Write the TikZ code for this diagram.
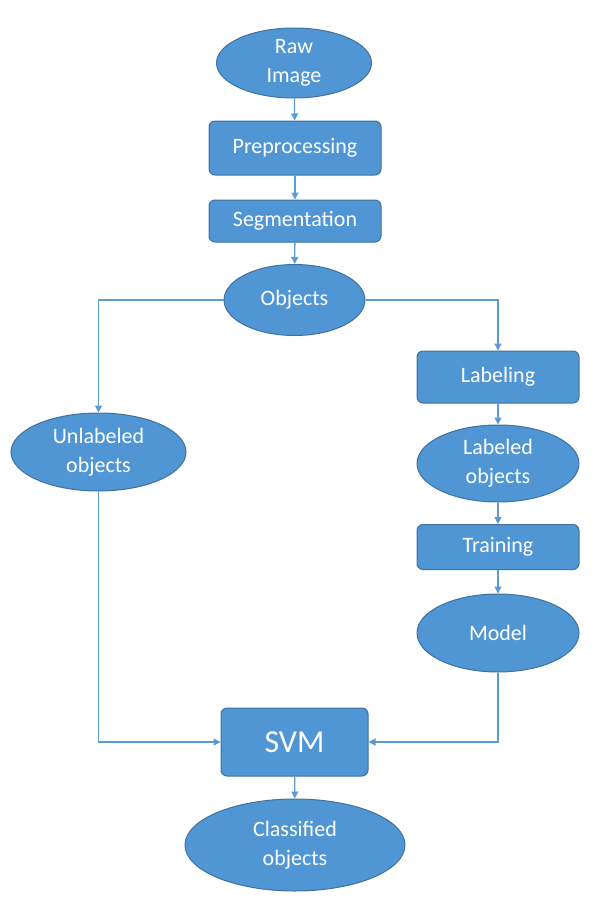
\documentclass[tikz,border=0pt]{standalone}
\usepackage{fontspec}
\setmainfont{Carlito}
\usetikzlibrary{arrows.meta,shapes.geometric}
\definecolor{nodefill}{RGB}{80,150,213}
\definecolor{nodeborder}{RGB}{65,113,156}
\definecolor{linkcol}{RGB}{91,155,213}
\begin{document}
\begin{tikzpicture}[x=1pt,y=-1pt,
  base/.style={fill=nodefill,draw=nodeborder,line width=1pt,text=white,align=center,inner sep=0pt,
    font=\fontsize{22}{29}\selectfont},
  oval/.style={base,ellipse},
  stepbox/.style={base,rectangle,rounded corners=6pt},
  link/.style={draw=linkcol,line width=1.3pt,-{Triangle[width=7pt,length=7pt]}}]
\useasboundingbox (0,0) rectangle (596,899);
\node[oval,minimum width=155pt,minimum height=70pt] (raw) at (294,63) {Raw\\Image};
\node[stepbox,minimum width=172pt,minimum height=54pt] (pre) at (295,148) {Preprocessing};
\node[stepbox,minimum width=172pt,minimum height=42pt] (seg) at (295,221) {Segmentation};
\node[oval,minimum width=141pt,minimum height=71pt] (obj) at (294.5,300) {Objects};
\node[stepbox,minimum width=162pt,minimum height=52pt] (lab) at (498,377) {Labeling};
\node[oval,minimum width=175pt,minimum height=78pt] (unl) at (98.5,452) {Unlabeled\\objects};
\node[oval,minimum width=162pt,minimum height=77pt] (lbd) at (498,463.5) {Labeled\\objects};
\node[stepbox,minimum width=162pt,minimum height=45pt] (trn) at (498,547) {Training};
\node[oval,minimum width=162pt,minimum height=78pt] (mdl) at (498,633) {Model};
\node[stepbox,minimum width=147pt,minimum height=68pt,font=\fontsize{32}{36}\selectfont] (svm) at (294.5,742) {SVM};
\node[oval,minimum width=220pt,minimum height=92pt] (cls) at (295,845) {Classified\\objects};
\draw[link] (raw) -- (pre);
\draw[link] (pre) -- (seg);
\draw[link] (seg) -- (obj);
\draw[link] (obj.west) -| (unl.north);
\draw[link] (obj.east) -| (lab.north);
\draw[link] (lab) -- (lbd);
\draw[link] (lbd) -- (trn);
\draw[link] (trn) -- (mdl);
\draw[link] (unl.south) |- (svm.west);
\draw[link] (mdl.south) |- (svm.east);
\draw[link] (svm) -- (cls);
\end{tikzpicture}
\end{document}
